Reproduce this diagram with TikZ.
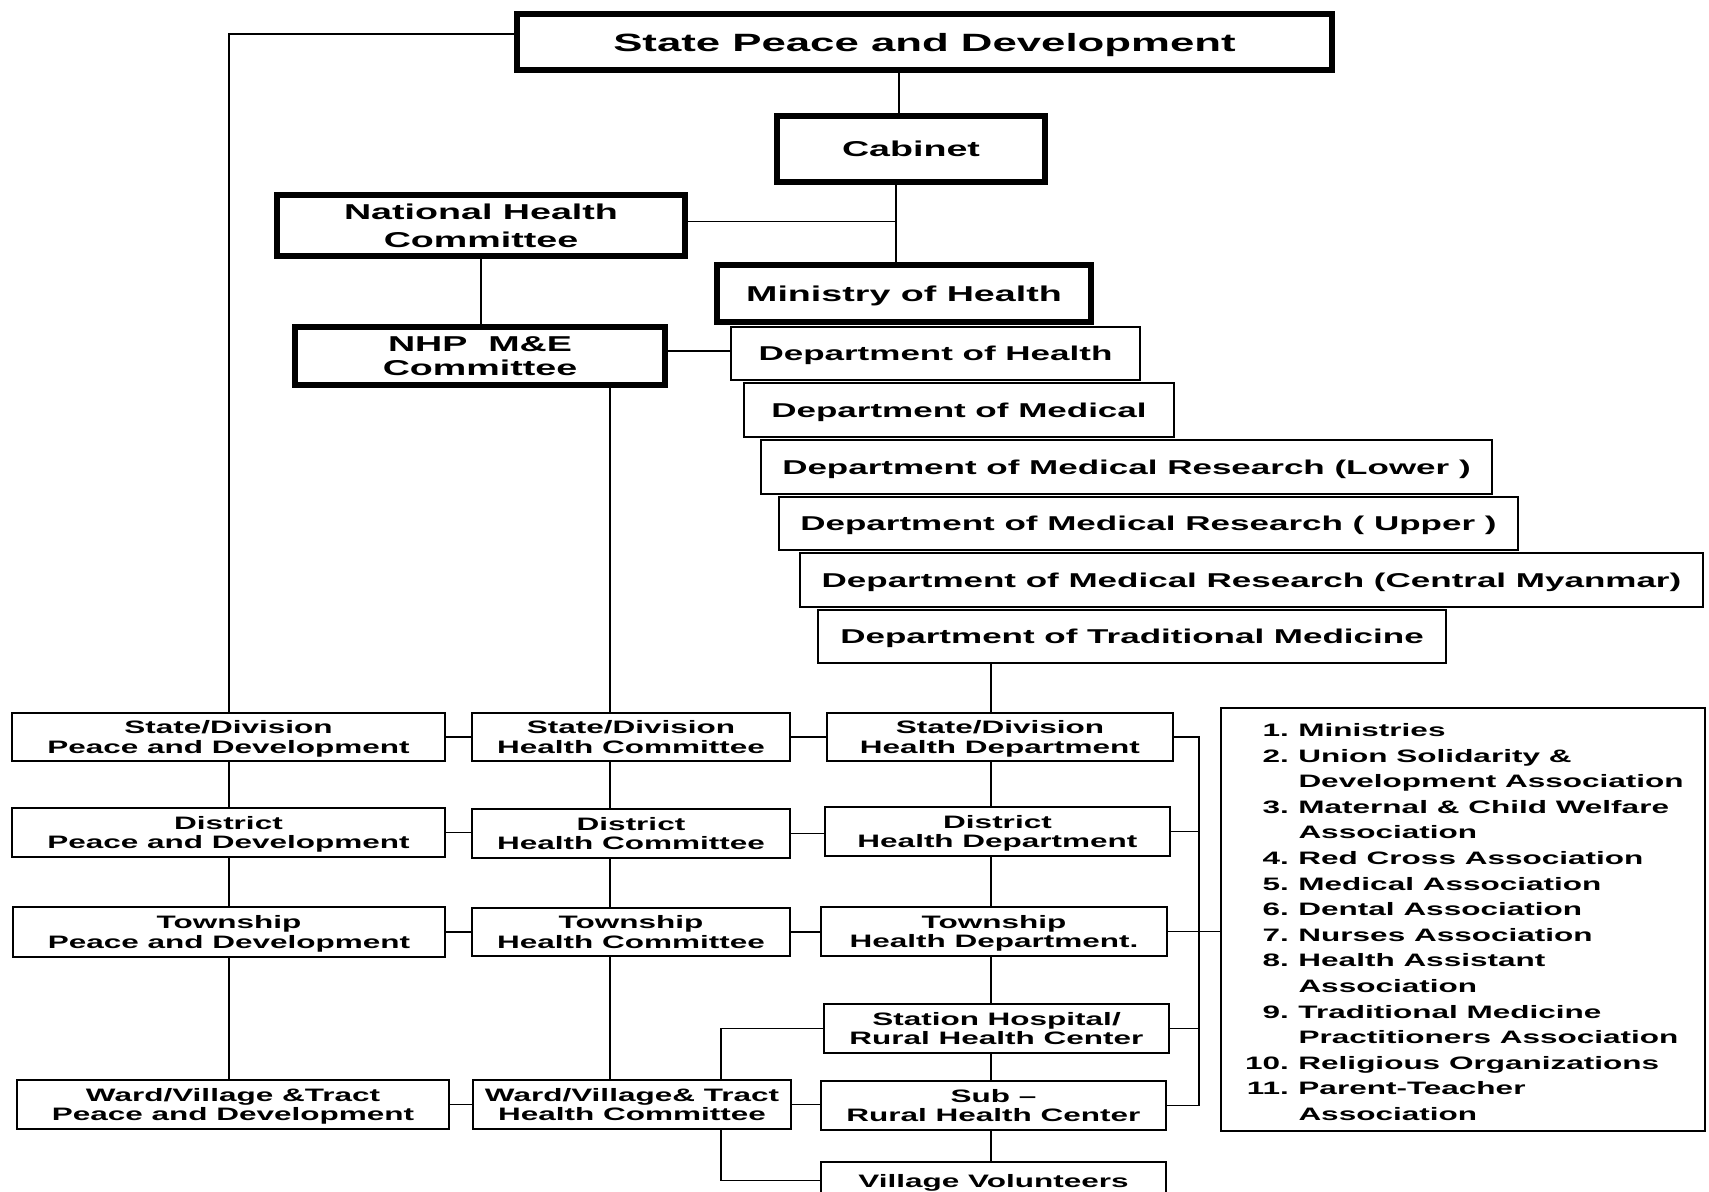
\documentclass[tikz,border=0pt]{standalone}
\usepackage{fontspec}
\setmainfont{Liberation Sans}[FakeStretch=1.75]
\begin{document}
\begin{tikzpicture}[x=1pt,y=-1pt,
  conn/.style={line width=1.8pt, line cap=rect},
  thk/.style={draw, line width=6pt, inner sep=0pt, align=center, text depth=0pt, font=\bfseries\fontsize{21.5}{28}\selectfont},
  dept/.style={draw, line width=2pt, inner sep=0pt, align=center, text depth=0pt, font=\bfseries\fontsize{20}{24}\selectfont},
  bx/.style={draw, line width=2pt, inner sep=0pt, align=center, text depth=0pt, font=\bfseries\fontsize{18}{19.7}\selectfont},
  sz/.style 2 args={minimum width=#1pt, minimum height=#2pt}
]
\useasboundingbox (0,0) rectangle (1709,1192);

% top level
\node[thk, font=\bfseries\fontsize{25}{30}\selectfont, sz={815}{56}] (sp) at (924.5,42) {State Peace and Development};
\node[thk, sz={268}{66}] (cab) at (911,149) {Cabinet};
\node[thk, sz={408}{61}] (nhc) at (481,225.5) {National Health\\Committee};
\node[thk, sz={374}{57}] (moh) at (904,293.5) {Ministry of Health};
\node[thk, font=\bfseries\fontsize{21.5}{24}\selectfont, sz={370}{58}] (nhp) at (480,356) {NHP\ \ M\&E\\Committee};

% departments
\node[dept, sz={409}{53}] (doh) at (935.5,353.5) {Department of Health};
\node[dept, sz={430}{54}] (dom) at (959,410) {Department of Medical};
\node[dept, sz={731}{54}] (dmrl) at (1126.5,467) {Department of Medical Research (Lower )};
\node[dept, sz={739}{53}] (dmru) at (1148.5,523.5) {Department of Medical Research ( Upper )};
\node[dept, sz={903}{54}] (dmrc) at (1251.5,580) {Department of Medical Research (Central Myanmar)};
\node[dept, sz={628}{53}] (dtm) at (1132,636.5) {Department of Traditional Medicine};

% column 1
\node[bx, sz={433}{48}] (sdpd) at (228.5,737) {State/Division\\Peace and Development};
\node[bx, sz={433}{49}] (dpd) at (228.5,832.5) {District\\Peace and Development};
\node[bx, sz={432}{50}] (tpd) at (229,932) {Township\\Peace and Development};
\node[bx, sz={432}{49}] (wpd) at (233,1104.5) {Ward/Village \&Tract\\Peace and Development};

% column 2
\node[bx, sz={318}{48}] (sdhc) at (631,737) {State/Division\\Health Committee};
\node[bx, sz={318}{49}] (dhc) at (631,833.5) {District\\Health Committee};
\node[bx, sz={318}{48}] (thc) at (631,932) {Township\\Health Committee};
\node[bx, sz={318}{49}] (whc) at (632,1104.5) {Ward/Village\& Tract\\Health Committee};

% column 3
\node[bx, sz={346}{48}] (sdhd) at (1000,737) {State/Division\\Health Department};
\node[bx, sz={345}{49}] (dhd) at (997.5,831.5) {District\\Health Department};
\node[bx, sz={346}{49}] (thd) at (994,931.5) {Township\\Health Department.};
\node[bx, sz={345}{49}] (shrhc) at (996.5,1028.5) {Station Hospital/\\Rural Health Center};
\node[bx, sz={345}{49}] (srhc) at (993.5,1105.5) {Sub –\\Rural Health Center};
\node[bx, sz={345}{37}] (vv) at (993.5,1180.5) {Village Volunteers};

% list
\node[draw, line width=2pt, inner sep=0pt, sz={484}{423}] (list) at (1463,919.5) {};
\node[anchor=base west, inner sep=0pt, font=\bfseries\fontsize{18}{25.6}\selectfont] (items) at (1245,736.4) {%
\begin{tabular}[t]{@{}r@{\hspace{9.5pt}}l@{}}
1. & Ministries\\
2. & Union Solidarity \&\\
   & Development Association\\
3. & Maternal \& Child Welfare\\
   & Association\\
4. & Red Cross Association\\
5. & Medical Association\\
6. & Dental Association\\
7. & Nurses Association\\
8. & Health Assistant\\
   & Association\\
9. & Traditional Medicine\\
   & Practitioners Association\\
10. & Religious Organizations\\
11. & Parent-Teacher\\
    & Association
\end{tabular}};

% helper coordinates
\coordinate (c1x) at (229,0);
\coordinate (c2x) at (610,0);
\coordinate (c3x) at (991,0);
\coordinate (c4x) at (721,0);
\coordinate (busx) at (1199,0);
\coordinate (cabx) at ([xshift=-15pt]cab.south);

% top connectors
\draw[conn] ([yshift=8pt]sp.west) -| (c1x |- sdpd.north);
\draw[conn] ([xshift=-25.5pt]sp.south) -- ([xshift=-25.5pt]sp.south |- cab.north);
\draw[conn] (cabx) -- (cabx |- moh.north);
\draw[conn] ([yshift=4pt]nhc.east) -- ([yshift=4pt]nhc.east -| cabx);
\draw[conn] (nhc.south) -- (nhc.south |- nhp.north);
\draw[conn] ([yshift=5pt]nhp.east) -- ([yshift=5pt]nhp.east -| doh.west);
\draw[conn] (c2x |- nhp.south) -- (c2x |- sdhc.north);
\draw[conn] (c3x |- dtm.south) -- (c3x |- sdhd.north);

% vertical chains
\draw[conn] (c1x |- sdpd.south) -- (c1x |- dpd.north)
            (c1x |- dpd.south) -- (c1x |- tpd.north)
            (c1x |- tpd.south) -- (c1x |- wpd.north);
\draw[conn] (c2x |- sdhc.south) -- (c2x |- dhc.north)
            (c2x |- dhc.south) -- (c2x |- thc.north)
            (c2x |- thc.south) -- (c2x |- whc.north);
\draw[conn] (c3x |- sdhd.south) -- (c3x |- dhd.north)
            (c3x |- dhd.south) -- (c3x |- thd.north)
            (c3x |- thd.south) -- (c3x |- shrhc.north)
            (c3x |- shrhc.south) -- (c3x |- srhc.north)
            (c3x |- srhc.south) -- (c3x |- vv.north);

% horizontal links
\foreach \a/\b in {sdpd/sdhc, dpd/dhc, tpd/thc, wpd/whc, sdhc/sdhd, dhc/dhd, thc/thd, whc/srhc}
  \draw[conn] (\a.east) -- (\a.east -| \b.west);

% ward committee links
\draw[conn] (c4x |- whc.north) |- (shrhc.west);
\draw[conn] (c4x |- whc.south) |- (vv.west);

% right bus
\foreach \a in {sdhd,dhd,thd,shrhc,srhc}
  \draw[conn] (\a.east) -- (\a.east -| busx);
\draw[conn] (busx |- sdhd.east) -- (busx |- srhc.east);
\draw[conn] (busx |- thd.east) -- (thd.east -| list.west);
\end{tikzpicture}
\end{document}
